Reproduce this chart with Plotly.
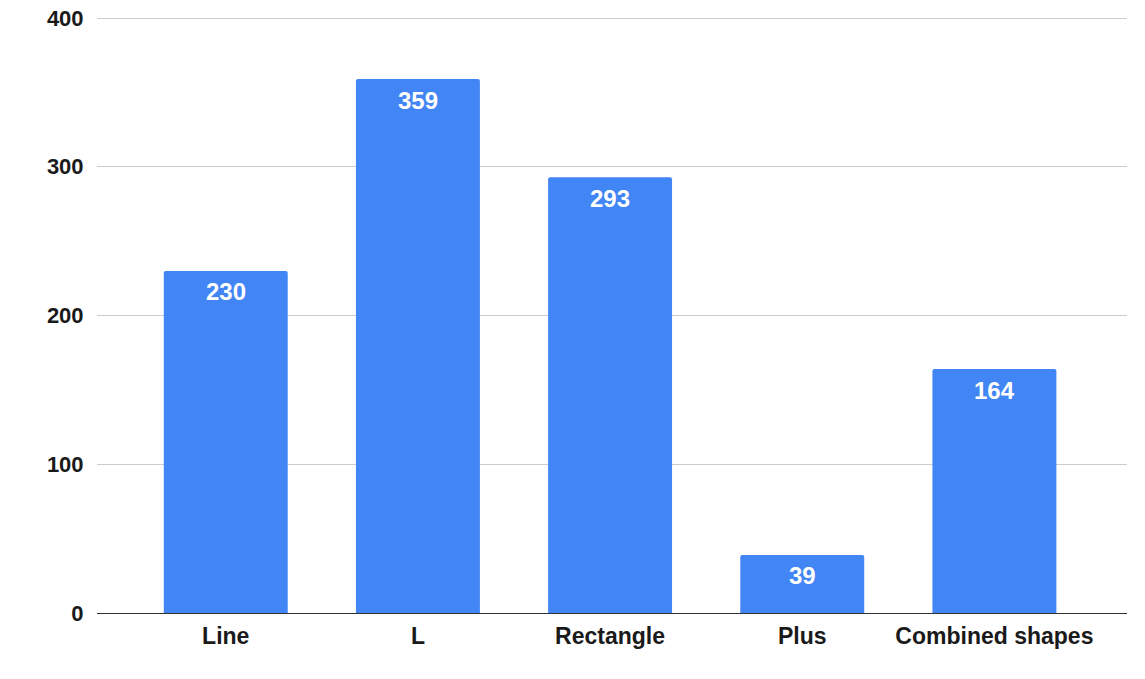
import plotly.graph_objects as go

categories = ["Line", "L", "Rectangle", "Plus", "Combined shapes"]
values = [230, 359, 293, 39, 164]

FONT = "Arial, Liberation Sans, sans-serif"

fig = go.Figure()
fig.add_trace(go.Bar(
    x=categories, y=values,
    marker=dict(color="#4285F4", cornerradius=2, line=dict(width=0)),
    width=0.645,
    hoverinfo="skip",
))

for c, v in zip(categories, values):
    fig.add_annotation(x=c, y=v, text=str(v), showarrow=False, yanchor="middle",
                       yshift=-21, font=dict(family=FONT, size=24, color="white", weight="bold"))

fig.update_layout(
    width=1145, height=679,
    margin=dict(l=97, r=18, t=17, b=66, autoexpand=False),
    plot_bgcolor="white", paper_bgcolor="white",
    showlegend=False,
    font=dict(family=FONT, size=23, color="#1a1a1a", weight="bold"),
)
fig.update_xaxes(range=[-0.67, 4.69], showgrid=False, showline=True, linecolor="#333333",
                 linewidth=1, ticks="outside", ticklen=2, tickcolor="rgba(0,0,0,0)",
                 automargin=False,
                 tickfont=dict(family=FONT, size=23, weight="bold"))
fig.update_yaxes(range=[0, 400.7], tickvals=[0, 100, 200, 300, 400], showgrid=True,
                 gridcolor="#cccccc", gridwidth=1, zeroline=False, showline=False,
                 ticks="outside", ticklen=8, tickcolor="rgba(0,0,0,0)",
                 automargin=False,
                 tickfont=dict(family=FONT, size=22, weight="bold"))

fig.write_html("out.html")
